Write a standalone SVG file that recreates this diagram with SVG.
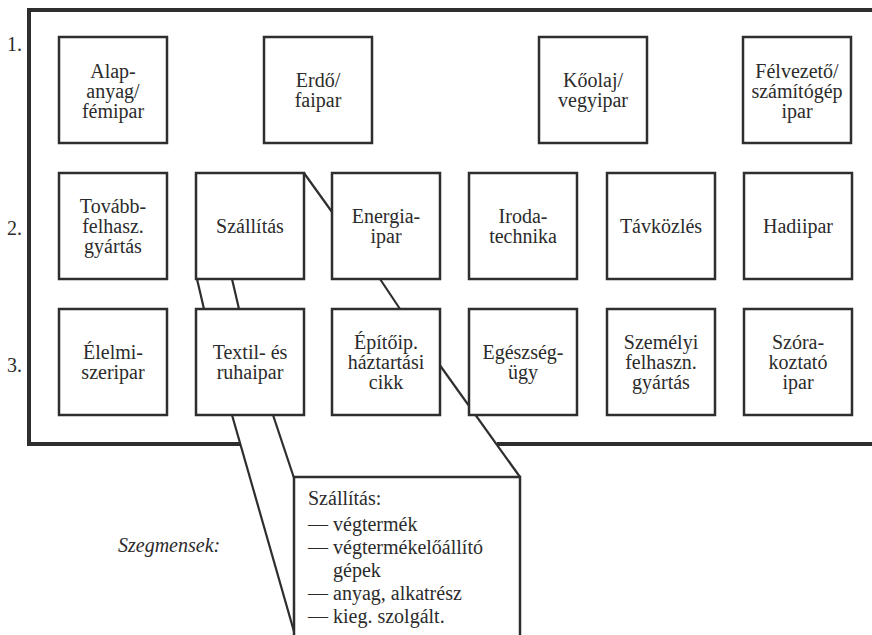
<svg xmlns="http://www.w3.org/2000/svg" width="872" height="635" viewBox="0 0 872 635">
  <style>
    .frame { fill: none; stroke: #2e2e2e; stroke-width: 4; }
    .box { fill: #ffffff; stroke: #2e2e2e; stroke-width: 2.5; }
    .link { fill: none; stroke: #2e2e2e; stroke-width: 2.2; }
    text { font-family: "Liberation Serif", Tinos, "Times New Roman", Times, "Nimbus Roman", "Noto Serif", "DejaVu Serif", FreeSerif, serif; font-size: 20px; fill: #2b2b2b; }
    .c { text-anchor: middle; }
    .it { font-style: italic; }
  </style>
  <rect width="872" height="635" fill="#ffffff"/>

  <!-- outer frame, open on the right and broken where the callout leaves it -->
  <path class="frame" d="M872,10 H29 V444 H240"/>
  <path class="frame" d="M497,444 H872"/>

  <!-- row numbers -->
  <text x="7" y="51">1.</text>
  <text x="7" y="235">2.</text>
  <text x="7" y="372">3.</text>

  <!-- connectors -->
  <g id="connectors">
    <line class="link" x1="304" y1="173" x2="332" y2="212"/>
    <line class="link" x1="197" y1="279" x2="204" y2="309"/>
    <line class="link" x1="232" y1="279" x2="239" y2="309"/>
    <line class="link" x1="380" y1="279" x2="400" y2="309"/>
    <line class="link" x1="439" y1="364" x2="520" y2="477"/>
    <line class="link" x1="232" y1="415" x2="295" y2="635"/>
    <line class="link" x1="273" y1="415" x2="294" y2="478"/>
  </g>

  <!-- row 1 -->
  <g id="alapanyag">
    <rect class="box" x="59" y="37" width="108" height="106"/>
    <text class="c" x="113" y="78">Alap-</text>
    <text class="c" x="113" y="98">anyag/</text>
    <text class="c" x="113" y="118">fémipar</text>
  </g>
  <g id="erdo">
    <rect class="box" x="264" y="37" width="108" height="106"/>
    <text class="c" x="318" y="87">Erdő/</text>
    <text class="c" x="318" y="107">faipar</text>
  </g>
  <g id="koolaj">
    <rect class="box" x="539" y="37" width="108" height="106"/>
    <text class="c" x="593" y="87">Kőolaj/</text>
    <text class="c" x="593" y="107">vegyipar</text>
  </g>
  <g id="felvezeto">
    <rect class="box" x="743" y="37" width="108" height="106"/>
    <text class="c" x="797" y="78">Félvezető/</text>
    <text class="c" x="797" y="98">számítógép</text>
    <text class="c" x="797" y="118">ipar</text>
  </g>

  <!-- row 2 -->
  <g id="tovabbfelhasz">
    <rect class="box" x="59" y="173" width="108" height="106"/>
    <text class="c" x="113" y="213">Tovább-</text>
    <text class="c" x="113" y="233">felhasz.</text>
    <text class="c" x="113" y="253">gyártás</text>
  </g>
  <g id="szallitas">
    <rect class="box" x="196" y="173" width="108" height="106"/>
    <text class="c" x="250" y="233">Szállítás</text>
  </g>
  <g id="energiaipar">
    <rect class="box" x="332" y="173" width="108" height="106"/>
    <text class="c" x="386" y="223">Energia-</text>
    <text class="c" x="386" y="243">ipar</text>
  </g>
  <g id="irodatechnika">
    <rect class="box" x="469" y="173" width="108" height="106"/>
    <text class="c" x="523" y="223">Iroda-</text>
    <text class="c" x="523" y="243">technika</text>
  </g>
  <g id="tavkozles">
    <rect class="box" x="607" y="173" width="108" height="106"/>
    <text class="c" x="661" y="233">Távközlés</text>
  </g>
  <g id="hadiipar">
    <rect class="box" x="744" y="173" width="108" height="106"/>
    <text class="c" x="798" y="233">Hadiipar</text>
  </g>

  <!-- row 3 -->
  <g id="elelmiszeripar">
    <rect class="box" x="59" y="309" width="108" height="106"/>
    <text class="c" x="113" y="359">Élelmi-</text>
    <text class="c" x="113" y="379">szeripar</text>
  </g>
  <g id="textilipar">
    <rect class="box" x="196" y="309" width="108" height="106"/>
    <text class="c" x="250" y="359">Textil- és</text>
    <text class="c" x="250" y="379">ruhaipar</text>
  </g>
  <g id="epitoipar">
    <rect class="box" x="332" y="309" width="108" height="106"/>
    <text class="c" x="386" y="349">Építőip.</text>
    <text class="c" x="386" y="369">háztartási</text>
    <text class="c" x="386" y="389">cikk</text>
  </g>
  <g id="egeszsegugy">
    <rect class="box" x="469" y="309" width="108" height="106"/>
    <text class="c" x="523" y="359">Egészség-</text>
    <text class="c" x="523" y="379">ügy</text>
  </g>
  <g id="szemelyi">
    <rect class="box" x="607" y="309" width="108" height="106"/>
    <text class="c" x="661" y="349">Személyi</text>
    <text class="c" x="661" y="369">felhaszn.</text>
    <text class="c" x="661" y="389">gyártás</text>
  </g>
  <g id="szorakoztato">
    <rect class="box" x="744" y="309" width="108" height="106"/>
    <text class="c" x="798" y="349">Szóra-</text>
    <text class="c" x="798" y="369">koztató</text>
    <text class="c" x="798" y="389">ipar</text>
  </g>

  <!-- segment callout -->
  <text class="it" x="118" y="552">Szegmensek:</text>
  <g id="szegmens-callout">
    <path class="box" d="M294,640 V477 H520 V640"/>
    <text x="308" y="505">Szállítás:</text>
    <text x="308" y="531">—</text><text x="333" y="531">végtermék</text>
    <text x="308" y="554">—</text><text x="333" y="554">végtermékelőállító</text>
    <text x="333" y="577">gépek</text>
    <text x="308" y="600">—</text><text x="333" y="600">anyag, alkatrész</text>
    <text x="308" y="623">—</text><text x="333" y="623">kieg. szolgált.</text>
  </g>
</svg>
